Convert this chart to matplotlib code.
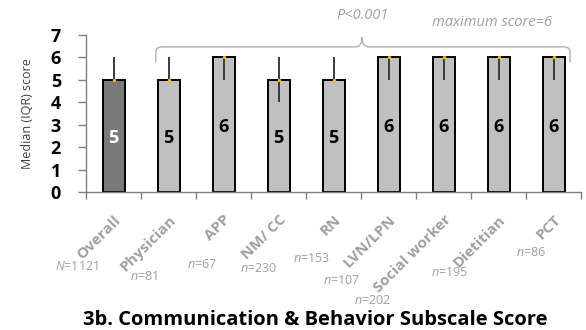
import numpy as np
import matplotlib.pyplot as plt
from matplotlib.path import Path
from matplotlib.patches import PathPatch

# --- DATA ---
groups = ["Overall", "Physician", "APP", "NM/ CC", "RN", "LVN/LPN",
          "Social worker", "Dietitian", "PCT"]
medians = [5, 5, 6, 5, 5, 6, 6, 6, 6]
q1 = [5, 5, 5, 4, 5, 5, 5, 5, 5]
q3 = [6, 6, 6, 6, 6, 6, 6, 6, 6]
n_labels = ["$\\mathit{N}$=1121", "$\\mathit{n}$=81", "$\\mathit{n}$=67",
            "$\\mathit{n}$=230", "$\\mathit{n}$=153", "$\\mathit{n}$=107",
            "$\\mathit{n}$=202", "$\\mathit{n}$=195", "$\\mathit{n}$=86"]

# where each sample-size note sits below its bar (pixels from bar centre at y=0)
n_dx = [-37, -25, -22, -20, -22, -47, -71, -49, -22]
n_dy = [-75, -84, -72, -76, -67, -88, -109, -81, -61]

plt.rcParams["font.family"] = ["Open Sans", "DejaVu Sans"]
plt.rcParams["mathtext.fontset"] = "custom"
plt.rcParams["mathtext.rm"] = "Open Sans"
plt.rcParams["mathtext.it"] = "Open Sans:italic"

fig = plt.figure(figsize=(5.86, 3.30), dpi=100)
ax = fig.add_axes([86 / 586, 1 - 192 / 330, 495 / 586, 157 / 330])

x = np.arange(len(groups))
colors = ["#7a7a7a"] + ["#c0c0c0"] * (len(groups) - 1)
ax.bar(x, medians, width=0.4, color=colors, edgecolor="black", linewidth=1.4, zorder=2)

# IQR whiskers with a small median marker
ax.vlines(x, q1, q3, color="#3a3a3a", linewidth=1.4, zorder=3)
ax.scatter(x, medians, s=6, color="#f5b800", zorder=4, linewidths=0)

for xi, m in zip(x, medians):
    ax.text(xi, m / 2 - 0.1, str(m), ha="center", va="center", fontsize=13,
            fontweight="bold", color="white" if xi == 0 else "black", zorder=5)

ax.set_xlim(-0.5, len(groups) - 0.5)
ax.set_ylim(0, 7)
ax.set_yticks(range(8))
ax.set_yticklabels([str(v) for v in range(8)], fontsize=13, fontweight="bold")
ax.tick_params(axis="y", length=6, width=1, color="#808080", pad=12)

ax.set_xticks(x)
ax.set_xticklabels(groups, rotation=45, ha="right", va="top", rotation_mode="anchor",
                   fontsize=11, fontweight="bold", color="#a0a0a0")
ax.tick_params(axis="x", which="major", length=0, pad=15)
ax.set_xticks(np.arange(-0.5, len(groups), 1.0), minor=True)
ax.tick_params(axis="x", which="minor", length=5, width=1, color="#808080")

for s in ["top", "right"]:
    ax.spines[s].set_visible(False)
for s in ["left", "bottom"]:
    ax.spines[s].set_color("#808080")
    ax.spines[s].set_linewidth(1)

ax.set_ylabel("Median (IQR) score", fontsize=9, color="#404040", labelpad=12)

# sample sizes under each category
for xi, lab, dx, dy in zip(x, n_labels, n_dx, n_dy):
    ax.annotate(lab, xy=(xi, 0), xytext=(dx, dy), textcoords="offset pixels",
                ha="center", va="center", fontsize=9, color="#a0a0a0",
                annotation_clip=False)

# brace over the professional groups
x0, x1, xm = 0.77, 8.3, 4.52
yb, yh, yt = 5.78, 6.47, 6.9
r = 0.12
verts = [(x0, yb), (x0, yh - 0.2), (x0, yh), (x0 + r, yh),
         (xm - r, yh), (xm, yh), (xm, yt),
         (xm, yt), (xm, yh), (xm + r, yh),
         (x1 - r, yh), (x1, yh), (x1, yh - 0.2), (x1, yb)]
codes = [Path.MOVETO, Path.LINETO, Path.CURVE3, Path.CURVE3,
         Path.LINETO, Path.CURVE3, Path.CURVE3,
         Path.MOVETO, Path.CURVE3, Path.CURVE3,
         Path.LINETO, Path.CURVE3, Path.CURVE3, Path.LINETO]
ax.add_patch(PathPatch(Path(verts, codes), fill=False, edgecolor="#b0b0b0",
                       linewidth=1, clip_on=False))

ax.text(xm, 7.85, "P<0.001", ha="center", va="center", fontsize=10.5,
        style="italic", color="#a0a0a0", clip_on=False)
ax.text(6.88, 7.55, "maximum score=6", ha="center", va="center", fontsize=10.5,
        style="italic", color="#a0a0a0", clip_on=False)

fig.text(315 / 586, 1 - 325 / 330, "3b. Communication & Behavior Subscale Score",
         ha="center", va="baseline", fontsize=14.5, fontweight="bold", color="black")

fig.savefig("out.png", dpi=100)
